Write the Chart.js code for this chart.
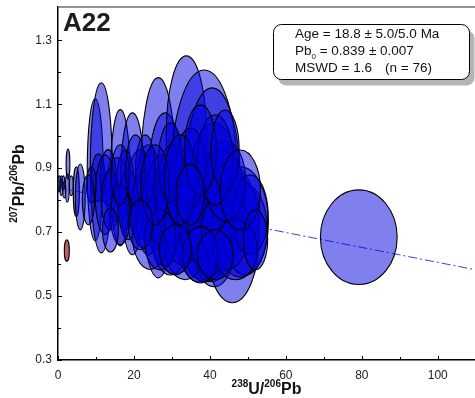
<!DOCTYPE html>
<html>
<head>
<meta charset="utf-8">
<script src="https://cdn.jsdelivr.net/npm/chart.js@4/dist/chart.umd.min.js"></script>
<style>
  html, body { margin: 0; padding: 0; background: #fff; }
  #wrap { width: 475px; height: 398px; }
</style>
</head>
<body>
<div id="wrap"><canvas id="tw" width="475" height="398"></canvas></div>
<script>
// Tera-Wasserburg plot, sample A22: 238U/206Pb vs 207Pb/206Pb with 2-sigma error ellipses

// ellipse centres and half-axes (x = 238U/206Pb, y = 207Pb/206Pb)
const ellX  = [0.34, 0.87, 1.39, 1.66, 2.63, 2.45, 3.5, 4.82, 5.87,
               9.8, 11.4, 10.6, 8.8, 16.4, 19.6, 15.6, 13.2, 17.7, 21.7, 12.4,
               26.4, 28.2, 33.8, 26.1, 23.8, 30.9, 34.3, 29.6, 24.3,
               38.5, 40.6, 41.1, 38.8, 45.9, 48.0, 45.3, 37.4, 42.7, 49.3, 38.8, 38.0, 33.5,
               13.8, 18.5, 22.4, 27.0, 30.1, 32.7, 36.1, 40.1, 44.1, 50.6,
               46.7, 34.9, 29.6, 23.0, 44.1, 26.9, 16.4, 8.0, 37.5, 41.4,
               16.4, 20.4, 25.6, 32.2, 37.5, 44.0, 48.0, 52.0, 30.9, 21.7, 13.8, 41.4, 34.8,
               79.2];
const ellY  = [0.851, 0.845, 0.854, 0.832, 0.913, 0.838, 0.845, 0.826, 0.810,
               0.895, 0.901, 0.870, 0.848, 0.870, 0.851, 0.832, 0.870, 0.832, 0.817, 0.817,
               0.870, 0.832, 1.007, 0.770, 0.801, 0.754, 0.785, 0.707, 0.692,
               0.879, 0.848, 0.785, 0.676, 0.692, 0.732, 0.754, 0.707, 0.817, 0.707, 0.832, 0.754, 0.676,
               0.801, 0.785, 0.770, 0.801, 0.817, 0.723, 0.770, 0.723, 0.707, 0.754,
               0.645, 0.901, 0.917, 0.895, 0.860, 0.676, 0.754, 0.801, 0.629, 0.926,
               0.879, 0.895, 0.848, 0.864, 0.957, 0.957, 0.832, 0.676, 0.645, 0.723, 0.707, 0.629, 0.817,
               0.684];
const ellSX = [0.39, 0.4, 0.4, 0.4, 0.5, 0.5, 0.5, 0.8, 1.3,
               2.1, 2.9, 1.8, 1.3, 2.6, 3.2, 3.2, 2.1, 2.4, 3.7, 2.6,
               4.7, 4.7, 5.3, 4.7, 3.7, 5.3, 5.8, 5.3, 4.7,
               8.7, 7.4, 7.4, 6.6, 7.1, 7.4, 7.9, 6.6, 6.6, 5.8, 5.8, 5.3, 5.8,
               2.4, 2.6, 3.2, 3.7, 4.2, 4.7, 4.7, 5.8, 6.3, 4.7,
               5.8, 3.9, 3.2, 2.6, 5.3, 4.2, 2.6, 1.6, 4.7, 4.7,
               2.4, 2.6, 3.7, 4.2, 4.2, 3.7, 5.3, 3.2, 4.2, 3.2, 2.1, 4.7, 3.7,
               10.1];
const ellSY = [0.025, 0.031, 0.022, 0.025, 0.047, 0.044, 0.031, 0.078, 0.103,
               0.222, 0.266, 0.075, 0.056, 0.213, 0.222, 0.100, 0.088, 0.125, 0.141, 0.125,
               0.313, 0.241, 0.244, 0.125, 0.172, 0.188, 0.181, 0.141, 0.109,
               0.328, 0.303, 0.256, 0.131, 0.213, 0.172, 0.125, 0.163, 0.141, 0.141, 0.119, 0.109, 0.125,
               0.094, 0.109, 0.119, 0.141, 0.156, 0.125, 0.156, 0.156, 0.125, 0.125,
               0.094, 0.125, 0.125, 0.109, 0.125, 0.094, 0.094, 0.078, 0.088, 0.141,
               0.094, 0.109, 0.125, 0.141, 0.141, 0.125, 0.125, 0.094, 0.078, 0.078, 0.069, 0.078, 0.094,
               0.148];

// spot left out of the regression
const rejX  = [2.32];
const rejY  = [0.642];
const rejSX = [0.66];
const rejSY = [0.034];

// regression line through Pb0 = 0.839
const lineX = [0, 110];
const lineY = [0.839, 0.582];

const xTicks = [0, 10, 20, 30, 40, 50, 60, 70, 80, 90, 100];
const yTicks = [0.3, 0.4, 0.5, 0.6, 0.7, 0.8, 0.9, 1.0, 1.1, 1.2, 1.3];

const statLines = ['Age = 18.8 ± 5.0/5.0 Ma', ' = 0.839 ± 0.007', 'MSWD = 1.6', '(n = 76)'];

const FONT = 'Arial, "Liberation Sans", sans-serif';

const ellipsePlugin = {
  id: 'ellipses',
  afterDatasetsDraw(chart) {
    const { ctx, chartArea, scales: { x, y } } = chart;
    ctx.save();
    ctx.beginPath();
    ctx.rect(chartArea.left, chartArea.top, chartArea.width, chartArea.height);
    ctx.clip();
    const draw = (cx, cy, sx, sy, fill) => {
      const px = x.getPixelForValue(cx), py = y.getPixelForValue(cy);
      const rx = Math.abs(x.getPixelForValue(cx + sx) - px);
      const ry = Math.abs(y.getPixelForValue(cy + sy) - py);
      ctx.beginPath();
      ctx.ellipse(px, py, rx, ry, 0, 0, Math.PI * 2);
      ctx.fillStyle = fill;
      ctx.fill();
      ctx.lineWidth = 1.1;
      ctx.strokeStyle = '#000';
      ctx.stroke();
    };
    ellX.forEach((v, i) => draw(v, ellY[i], ellSX[i], ellSY[i], 'rgba(0,0,220,0.5)'));
    rejX.forEach((v, i) => draw(v, rejY[i], rejSX[i], rejSY[i], 'rgba(170,40,40,0.75)'));
    ctx.restore();
  }
};

// superscripted isotope label, e.g. [['238','U'],['/',''],['206','Pb']]
function isoText(ctx, parts, x, y, big, small) {
  let cx = x;
  parts.forEach(([sup, main]) => {
    if (sup === '/') {
      ctx.font = 'bold ' + big + 'px ' + FONT;
      ctx.fillText('/', cx, y);
      cx += ctx.measureText('/').width;
      return;
    }
    ctx.font = 'bold ' + small + 'px ' + FONT;
    ctx.fillText(sup, cx, y - big * 0.42);
    cx += ctx.measureText(sup).width;
    ctx.font = 'bold ' + big + 'px ' + FONT;
    ctx.fillText(main, cx, y);
    cx += ctx.measureText(main).width;
  });
  return cx - x;
}
function isoWidth(ctx, parts, big, small) {
  let w = 0;
  parts.forEach(([sup, main]) => {
    if (sup === '/') { ctx.font = 'bold ' + big + 'px ' + FONT; w += ctx.measureText('/').width; return; }
    ctx.font = 'bold ' + small + 'px ' + FONT; w += ctx.measureText(sup).width;
    ctx.font = 'bold ' + big + 'px ' + FONT; w += ctx.measureText(main).width;
  });
  return w;
}

const decorPlugin = {
  id: 'decor',
  afterDraw(chart) {
    const { ctx, chartArea: ca, scales: { x, y } } = chart;
    ctx.save();

    // inward tick marks
    ctx.strokeStyle = '#000';
    ctx.lineWidth = 1;
    xTicks.forEach(v => {
      const px = Math.round(x.getPixelForValue(v)) + 0.5;
      const len = v % 20 === 0 ? 4 : 3;
      ctx.beginPath(); ctx.moveTo(px, ca.bottom); ctx.lineTo(px, ca.bottom - len); ctx.stroke();
    });
    yTicks.forEach(v => {
      const py = Math.round(y.getPixelForValue(v)) + 0.5;
      const len = Math.round(v * 10) % 2 === 1 ? 4 : 3;
      ctx.beginPath(); ctx.moveTo(ca.left, py); ctx.lineTo(ca.left + len, py); ctx.stroke();
    });

    // top frame
    ctx.strokeStyle = '#6e6e6e';
    ctx.lineWidth = 1.5;
    ctx.beginPath(); ctx.moveTo(ca.left, ca.top); ctx.lineTo(ca.right, ca.top); ctx.stroke();

    // sample name
    ctx.fillStyle = '#1e1e1e';
    ctx.textAlign = 'left';
    ctx.textBaseline = 'alphabetic';
    ctx.font = 'bold 26px ' + FONT;
    ctx.fillText('A22', 63, 31);

    // statistics box with shadow
    const bx = 273.5, by = 24.5, bw = 196, bh = 55, r = 8;
    ctx.fillStyle = '#b4b4b4';
    ctx.beginPath(); ctx.roundRect(bx + 5, by + 6, bw, bh, r); ctx.fill();
    ctx.fillStyle = '#fff';
    ctx.strokeStyle = '#000';
    ctx.lineWidth = 1;
    ctx.beginPath(); ctx.roundRect(bx, by, bw, bh, r); ctx.fill(); ctx.stroke();

    ctx.fillStyle = '#111';
    ctx.font = '13.5px ' + FONT;
    ctx.fillText(statLines[0], 295, 38);
    ctx.fillText('Pb', 295, 55);
    let w = ctx.measureText('Pb').width;
    ctx.font = '8px ' + FONT;
    ctx.fillText('0', 295 + w, 59);
    w += ctx.measureText('0').width;
    ctx.font = '13.5px ' + FONT;
    ctx.fillText(statLines[1], 295 + w, 55);
    ctx.fillText(statLines[2], 295, 72);
    ctx.fillText(statLines[3], 385, 72);

    // axis titles
    ctx.fillStyle = '#111';
    const xt = [['238', 'U'], ['/', ''], ['206', 'Pb']];
    const xw = isoWidth(ctx, xt, 16, 10);
    isoText(ctx, xt, (ca.left + ca.right) / 2 - xw / 2, 394, 16, 10);

    const yt = [['207', 'Pb'], ['/', ''], ['206', 'Pb']];
    const yw = isoWidth(ctx, yt, 16, 10);
    ctx.translate(24, (ca.top + ca.bottom) / 2);
    ctx.rotate(-Math.PI / 2);
    isoText(ctx, yt, -yw / 2, 0, 16, 10);

    ctx.restore();
  }
};

// fixed axis sizes, no label overhang padding
function fixX(s) { s.height = 38; s.paddingLeft = 0; s.paddingRight = 0; s.paddingTop = 0; s.paddingBottom = 0; }
function fixY(s) { s.width = 58; s.paddingLeft = 0; s.paddingRight = 0; s.paddingTop = 0; s.paddingBottom = 0; }

new Chart(document.getElementById('tw'), {
  type: 'scatter',
  data: {
    datasets: [{
      type: 'line',
      data: lineX.map((v, i) => ({ x: v, y: lineY[i] })),
      borderColor: 'rgba(40,40,225,0.9)',
      borderWidth: 1,
      borderDash: [9, 3, 2, 3],
      pointRadius: 0,
      fill: false
    }]
  },
  options: {
    responsive: false,
    devicePixelRatio: 1,
    animation: false,
    layout: { autoPadding: false, padding: { top: 7, left: 0, right: 0, bottom: 0 } },
    plugins: { legend: { display: false }, tooltip: { enabled: false } },
    scales: {
      x: {
        type: 'linear', min: 0, max: 109.8,
        afterFit: fixX,
        afterBuildTicks: s => { s.ticks = xTicks.map(v => ({ value: v })); },
        grid: { display: false, drawTicks: false },
        border: { display: true, color: '#000', width: 1.5 },
        ticks: {
          autoSkip: false, maxRotation: 0, padding: 8, color: '#222',
          font: { family: FONT, size: 12 },
          callback: v => (v % 20 === 0 ? String(v) : '')
        }
      },
      y: {
        type: 'linear', min: 0.3, max: 1.404,
        afterFit: fixY,
        afterBuildTicks: s => { s.ticks = yTicks.map(v => ({ value: v })); },
        grid: { display: false, drawTicks: false },
        border: { display: true, color: '#000', width: 1.5 },
        ticks: {
          autoSkip: false, padding: 6, color: '#222',
          font: { family: FONT, size: 12 },
          callback: v => (Math.round(v * 10) % 2 === 1 ? v.toFixed(1) : '')
        }
      }
    }
  },
  plugins: [ellipsePlugin, decorPlugin]
});
</script>
</body>
</html>
